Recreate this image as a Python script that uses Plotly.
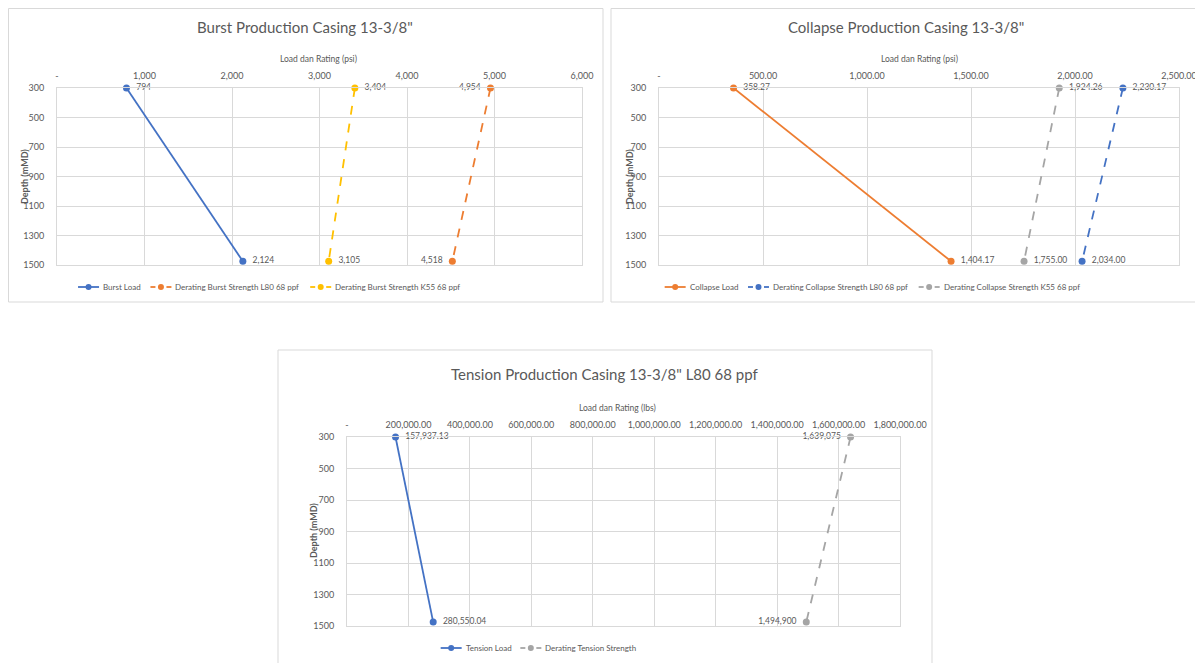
import plotly.graph_objects as go

# page body has an 8px margin, so the figure is drawn 8px in from the window edge
OFF = 8
W, H = 1203 - OFF, 663 - OFF

# ---------------- data ----------------
depth = [300, 1475]
depth_ticks = [300, 500, 700, 900, 1100, 1300, 1500]

burst_load = [794, 2124]
burst_l80 = [4954, 4518]
burst_k55 = [3404, 3105]
burst_xticks = [0, 1000, 2000, 3000, 4000, 5000, 6000]

collapse_load = [358.27, 1404.17]
collapse_l80 = [2230.17, 2034.00]
collapse_k55 = [1924.26, 1755.00]
collapse_xticks = [0, 500, 1000, 1500, 2000, 2500]

tension_load = [157937.13, 280550.04]
tension_strength = [1639075, 1494900]
tension_xticks = [0, 200000, 400000, 600000, 800000, 1000000, 1200000, 1400000, 1600000, 1800000]

BLUE = "#4472C4"
ORANGE = "#ED7D31"
YELLOW = "#FFC000"
GREY = "#A5A5A5"
TXT = "#595959"
GRID = "#D9D9D9"
FONT = "Lato"


def px_x(v):
    return (v - OFF) / W


def px_y(v):
    return 1 - (v - OFF) / H


def fmt0(v):
    return f"{v:,.0f}"


def fmt2(v):
    return f"{v:,.2f}"


def xticktext(vals, f):
    return ["-" if v == 0 else f(v) for v in vals]


fig = go.Figure()


def add_series(x, name, color, dash, xa, ya, textpos, f):
    if textpos.endswith("right"):
        labels = ["  " + f(v) for v in x]
    else:
        labels = [f(v) + "  " for v in x]
    fig.add_trace(go.Scatter(
        x=x, y=depth, name=name, mode="lines+markers+text",
        line=dict(color=color, width=1.8, dash=dash),
        marker=dict(color=color, size=7),
        text=labels, textposition=textpos,
        textfont=dict(family=FONT, size=8.5, color=TXT),
        xaxis=xa, yaxis=ya, showlegend=False, cliponaxis=False,
    ))


# chart 1 : burst
add_series(burst_load, "Burst Load", BLUE, "solid", "x", "y", "middle right", fmt0)
add_series(burst_l80, "Derating Burst Strength L80 68 ppf", ORANGE, "dash", "x", "y", "middle left", fmt0)
add_series(burst_k55, "Derating Burst Strength K55 68 ppf", YELLOW, "dash", "x", "y", "middle right", fmt0)

# chart 2 : collapse
add_series(collapse_load, "Collapse Load", ORANGE, "solid", "x2", "y2", "middle right", fmt2)
add_series(collapse_l80, "Derating Collapse Strength L80 68 ppf", BLUE, "dash", "x2", "y2", "middle right", fmt2)
add_series(collapse_k55, "Derating Collapse Strength K55 68 ppf", GREY, "dash", "x2", "y2", "middle right", fmt2)

# chart 3 : tension
add_series(tension_load, "Tension Load", BLUE, "solid", "x3", "y3", "middle right", fmt2)
add_series(tension_strength, "Derating Tension Strength", GREY, "dash", "x3", "y3", "middle left", fmt0)


def xaxis(domain, rng, ticks, f, anchor):
    return dict(
        domain=[px_x(domain[0]), px_x(domain[1])], range=rng, side="top",
        tickvals=ticks, ticktext=xticktext(ticks, f), anchor=anchor,
        showgrid=True, gridcolor=GRID, gridwidth=1, zeroline=False,
        showline=True, linecolor=GRID, mirror=True, ticks="",
        tickfont=dict(family=FONT, size=9, color=TXT), ticklabelstandoff=4,
        fixedrange=True, automargin=False,
    )


def yaxis(domain, anchor):
    return dict(
        domain=[px_y(domain[1]), px_y(domain[0])], range=[1500, 300],
        tickvals=depth_ticks, anchor=anchor,
        showgrid=True, gridcolor=GRID, gridwidth=1, zeroline=False,
        showline=True, linecolor=GRID, mirror=True, ticks="",
        tickfont=dict(family=FONT, size=9, color=TXT), ticklabelstandoff=10,
        fixedrange=True, automargin=False,
    )


fig.update_layout(
    width=W, height=H, margin=dict(l=0, r=0, t=0, b=0, autoexpand=False),
    paper_bgcolor="white", plot_bgcolor="white",
    font=dict(family=FONT, color=TXT), showlegend=False,
    xaxis=xaxis((57, 582), [0, 6000], burst_xticks, fmt0, "y"),
    yaxis=yaxis((88, 265), "x"),
    xaxis2=xaxis((659, 1179), [0, 2500], collapse_xticks, fmt2, "y2"),
    yaxis2=yaxis((88, 265), "x2"),
    xaxis3=xaxis((347, 900), [0, 1800000], tension_xticks, fmt2, "y3"),
    yaxis3=yaxis((437, 626), "x3"),
)

# chart boxes
for (x0, y0, x1, y1) in [(8.5, 8.5, 603, 302), (611, 8.5, 1200, 302), (278, 350, 932, 680)]:
    fig.add_shape(type="rect", xref="paper", yref="paper",
                  x0=px_x(x0), x1=px_x(x1), y0=px_y(y1), y1=px_y(y0),
                  line=dict(color=GRID, width=1), fillcolor="rgba(0,0,0,0)", layer="below")

# titles and axis titles
texts = [
    ("Burst Production Casing 13-3/8\"", 305, 27, 15, 0),
    ("Collapse Production Casing 13-3/8\"", 906, 27, 15, 0),
    ("Tension Production Casing 13-3/8\" L80 68 ppf", 605, 374, 15, 0),
    ("Load dan Rating (psi)", 318, 59, 8.5, 0),
    ("Load dan Rating (psi)", 919, 59, 8.5, 0),
    ("Load dan Rating (lbs)", 617, 408, 8.5, 0),
    ("<b>Depth (mMD)</b>", 25, 177, 9, -90),
    ("<b>Depth (mMD)</b>", 630, 177, 9, -90),
    ("<b>Depth (mMD)</b>", 313, 531, 9, -90),
]
for t, x, y, s, ang in texts:
    fig.add_annotation(text=t, x=px_x(x), y=px_y(y), xref="paper", yref="paper",
                       showarrow=False, xanchor="center", yanchor="middle", textangle=ang,
                       font=dict(family=FONT, size=s, color=TXT))

# legends (drawn by hand to keep Excel-like compact keys)
LEG_SIZE = 8
KEY = 21
legends = [
    (268, 287, [("Burst Load", BLUE, "solid"),
                ("Derating Burst Strength L80 68 ppf", ORANGE, "dash"),
                ("Derating Burst Strength K55 68 ppf", YELLOW, "dash")]),
    (871, 287, [("Collapse Load", ORANGE, "solid"),
                ("Derating Collapse Strength L80 68 ppf", BLUE, "dash"),
                ("Derating Collapse Strength K55 68 ppf", GREY, "dash")]),
    (538, 648, [("Tension Load", BLUE, "solid"),
                ("Derating Tension Strength", GREY, "dash")]),
]
for center, y, items in legends:
    widths = [0.455 * LEG_SIZE * len(n) for n, _, _ in items]
    gap = 12
    total = sum(KEY + 3 + w for w in widths) + gap * (len(items) - 1)
    x = center - total / 2
    for (name, color, dash), w in zip(items, widths):
        if dash == "solid":
            fig.add_shape(type="line", xref="paper", yref="paper",
                          x0=px_x(x), x1=px_x(x + KEY), y0=px_y(y), y1=px_y(y),
                          line=dict(color=color, width=1.8))
        else:
            for a, b in [(x, x + 5), (x + 16, x + KEY)]:
                fig.add_shape(type="line", xref="paper", yref="paper",
                              x0=px_x(a), x1=px_x(b), y0=px_y(y), y1=px_y(y),
                              line=dict(color=color, width=1.8))
        cx = x + KEY / 2
        fig.add_shape(type="circle", xref="paper", yref="paper",
                      x0=px_x(cx - 3), x1=px_x(cx + 3), y0=px_y(y + 3), y1=px_y(y - 3),
                      line=dict(color=color, width=0), fillcolor=color)
        fig.add_annotation(text=name, x=px_x(x + KEY + 2), y=px_y(y), xref="paper", yref="paper",
                           showarrow=False, xanchor="left", yanchor="middle",
                           font=dict(family=FONT, size=LEG_SIZE, color=TXT))
        x += KEY + 3 + w + gap

fig.write_html("out.html")
